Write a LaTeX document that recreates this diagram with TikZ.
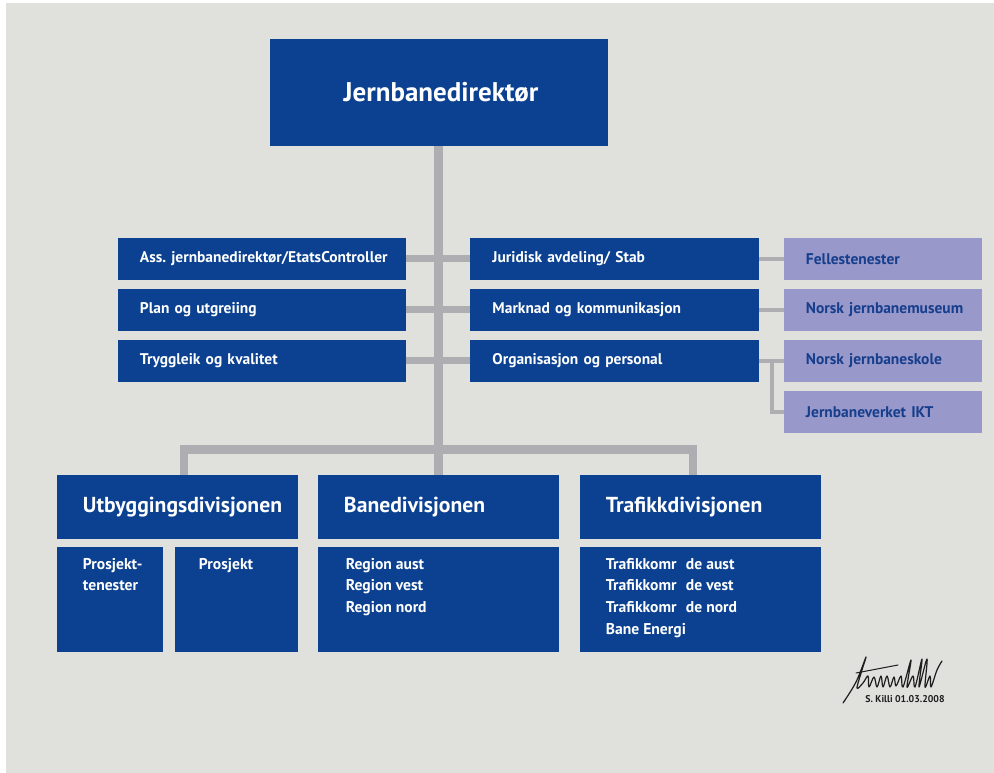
\documentclass[tikz,border=0pt]{standalone}
\usepackage{fontspec}
\setmainfont{PT Sans}
\usetikzlibrary{positioning,calc}
\definecolor{bgclr}{RGB}{224,224,220}
\definecolor{dirclr}{RGB}{11,65,144}
\definecolor{lineclr}{RGB}{174,174,178}
\definecolor{staffclr}{RGB}{152,152,202}
\definecolor{stafftxt}{RGB}{22,62,140}
\definecolor{signclr}{RGB}{30,30,30}
\frenchspacing
\tikzset{
    box/.style={rectangle,fill=dirclr,text=white,inner sep=0pt,font=\bfseries},
    head/.style={box,minimum width=84.5mm,minimum height=26.75mm,
                 font=\bfseries\fontsize{19.2}{22}\selectfont},
    row/.style={box,minimum height=10.5mm,text width=72mm,align=left,
                execute at begin node={\hspace*{5.5mm}},
                font=\bfseries\fontsize{11}{13}\selectfont},
    staff/.style={row,fill=staffclr,text=stafftxt,text width=49.5mm},
    div/.style={box,minimum height=16mm,text width=60.25mm,align=left,
                execute at begin node={\hspace*{6.5mm}},
                font=\bfseries\fontsize{15.4}{18}\selectfont},
    sub/.style={box,minimum height=26.25mm},
    subtxt/.style={anchor=north west,inner sep=0pt,text=white,align=left,
                   font=\bfseries\fontsize{11.1}{15.4}\selectfont},
    bar/.style={draw=lineclr,line width=1.75mm},
    trunk/.style={bar,line width=2.1mm},
    link/.style={draw=lineclr,line width=1mm},
}
\begin{document}
\begin{tikzpicture}[x=0.025cm,y=-0.025cm]
\useasboundingbox (0,0) rectangle (994,773);
\fill[bgclr] (6,3) rectangle (994,773);

% director
\node[head] (Dir) at (439,92.5) {\hspace*{1mm}Jernbanedirektør};

% staff rows
\node[row] (L1) at (262,259) {Ass. jernbanedirektør/EtatsController};
\node[row] (L2) at (262,310) {Plan og utgreiing};
\node[row] (L3) at (262,361) {Tryggleik og kvalitet};
\node[row] (R1) at (614.5,259) {Juridisk avdeling/ Stab};
\node[row] (R2) at (614.5,310) {Marknad og kommunikasjon};
\node[row] (R3) at (614.5,361) {Organisasjon og personal};

\node[staff] (F1) at (883,259) {Fellestenester};
\node[staff] (F2) at (883,310) {Norsk jernbanemuseum};
\node[staff] (F3) at (883,361) {Norsk jernbaneskole};
\node[staff] (F4) at (883,412) {Jernbaneverket IKT};

% divisions
\node[div] (Utb) at (177.5,507) {Utbyggingsdivisjonen};
\node[div] (Ban) at (438.5,507) {Banedivisjonen};
\node[div] (Tra) at (700.5,507) {Trafikkdivisjonen};

\node[sub,minimum width=26.5mm]  (S1) at (110,599.5) {};
\node[sub,minimum width=30.75mm] (S2) at (236.5,599.5) {};
\node[sub,minimum width=60.25mm] (S3) at (438.5,599.5) {};
\node[sub,minimum width=60.25mm] (S4) at (700.5,599.5) {};

\node[subtxt] (T1) at ($(S1.north west)+(26,11)$) {Prosjekt-\\tenester};
\node[subtxt] (T2) at ($(S2.north west)+(24,11)$) {Prosjekt};
\node[subtxt] (T3) at ($(S3.north west)+(28,11)$) {Region aust\\Region vest\\Region nord};
\node[subtxt] (T4) at ($(S4.north west)+(26,11)$)
    {Trafikkomr\hspace{0.6em}de aust\\Trafikkomr\hspace{0.6em}de vest\\
     Trafikkomr\hspace{0.6em}de nord\\Bane Energi};

% connectors
\coordinate (bus)   at (438.5,449.5);
\coordinate (busL)  at (184,475);
\coordinate (busR)  at (693,475);
\coordinate (fork)  at (772,361);
\draw[bar] (L1.east) -- (R1.west);
\draw[bar] (L2.east) -- (R2.west);
\draw[bar] (L3.east) -- (R3.west);
\draw[trunk] (Dir.south -| Ban.north) -- (Ban.north);
\draw[trunk,line join=miter] (busL) |- (bus) -| (busR);
\draw[link] (R1.east) -- (F1.west);
\draw[link] (R2.east) -- (F2.west);
\draw[link] (R3.east) -- (F3.west);
\draw[link] (fork) |- (F4.west);

% signature
\draw[signclr,line width=0.3mm,line join=round,line cap=round]
    plot[smooth,tension=0.6] coordinates {(843,703) (856,682) (866,657) (862,670)
    (857,688) (863,683) (868,676) (869,687) (874,677) (877,687) (881,676)
    (883,687) (887,676) (890,687) (894,677) (896,686) (901,676) (903,687)
    (911,660) (907,687) (913,676) (915,687) (922,659) (919,687) (927,659)
    (925,687) (930,676) (931,687) (937,670) (942,661)};
\draw[signclr,line width=0.25mm,line cap=round] (856,673) -- (898,665);
\node[inner sep=0pt,text=signclr,font=\bfseries\fontsize{7}{8}\selectfont]
    (Sig) at (905,699) {S. Killi 01.03.2008};
\end{tikzpicture}
\end{document}
